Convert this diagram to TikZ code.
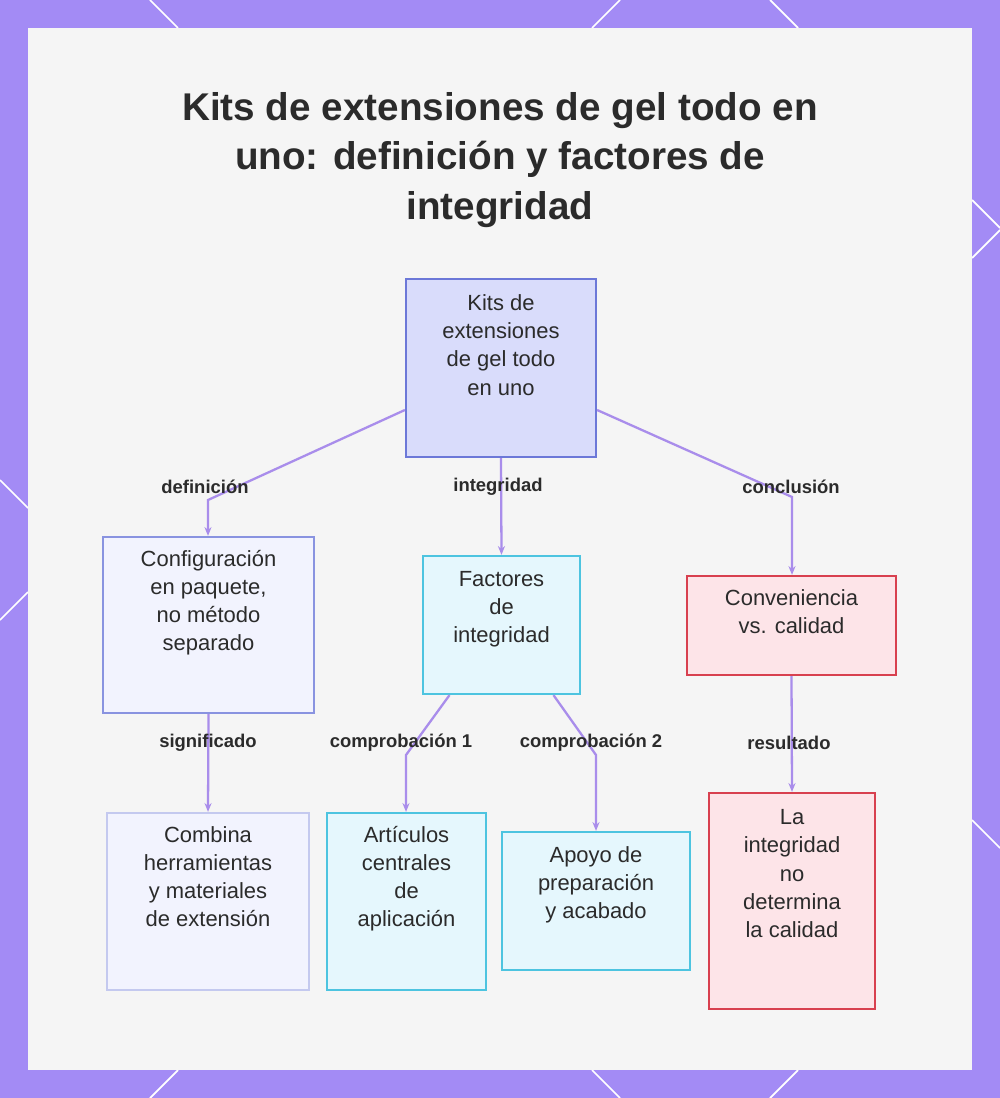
\documentclass[tikz,border=0pt]{standalone}
\usepackage{fontspec}
\setmainfont{Liberation Sans}
\usetikzlibrary{calc,arrows.meta}
\definecolor{frame}{HTML}{A38BF5}
\definecolor{link}{HTML}{A98DEB}
\definecolor{ink}{HTML}{2B2B2B}
\definecolor{blueline}{HTML}{6C78D8}
\definecolor{bluefill}{HTML}{D9DCFB}
\definecolor{palefill}{HTML}{F2F3FE}
\definecolor{cyanline}{HTML}{4DC4E0}
\definecolor{cyanfill}{HTML}{E5F7FD}
\definecolor{redline}{HTML}{D8404F}
\definecolor{redfill}{HTML}{FDE4E8}
\tikzset{
  box/.style={draw, line width=1.3pt, align=center, text=ink, font=\fontsize{12.5}{16}\selectfont, inner sep=2pt},
  bluebox/.style={box, draw=blueline, fill=bluefill},
  palebox/.style={box, draw=blueline!80, fill=palefill},
  cyanbox/.style={box, draw=cyanline, fill=cyanfill},
  redbox/.style={box, draw=redline, fill=redfill},
  edge/.style={draw=link, line width=1.3pt, -{Stealth[length=5pt,width=4pt]}},
  tag/.style={font=\bfseries\fontsize{10.5}{12}\selectfont, text=ink, inner sep=1pt}
}
\begin{document}
\begin{tikzpicture}[x=0.02cm,y=-0.02cm]
\useasboundingbox (0,0) rectangle (1000,1098);
% frame
\fill[frame] (0,0) rectangle (1000,1098);
\foreach \a/\b/\c/\d in {150/0/178/28, 620/0/592/28, 770/0/798/28, 972/200/1000/228, 972/258/1000/230, 0/480/28/508, 0/620/28/592, 972/820/1000/848, 150/1098/178/1070, 592/1070/620/1098, 770/1098/798/1070}
  \draw[white, line width=1pt] (\a,\b) -- (\c,\d);
\fill[white!96!black] (28,28) rectangle (972,1070);
% title
\node[font=\bfseries\fontsize{22}{28}\selectfont, text=ink, align=center] (title) at (500,160)
  {Kits de extensiones de gel todo en\\uno: definición y factores de\\integridad};
% boxes
\node[bluebox, minimum width=3.8cm, minimum height=3.56cm] (root) at (501,368)
  {Kits de\\extensiones\\de gel todo\\en uno\\[0.36cm]};
\node[palebox, minimum width=4.22cm, minimum height=3.52cm] (config) at (208.5,625)
  {Configuración\\en paquete,\\no método\\separado\\[0.42cm]};
\node[cyanbox, minimum width=3.14cm, minimum height=2.76cm] (factors) at (501.5,625)
  {Factores\\de\\integridad\\[0.15cm]};
\node[redbox, minimum width=4.18cm, minimum height=1.98cm] (conv) at (791.5,625.5)
  {Conveniencia\\vs. calidad\\[0cm]};
\node[palebox, draw=blueline!40, minimum width=4.04cm, minimum height=3.54cm] (combine) at (208,901.5)
  {Combina\\herramientas\\y materiales\\de extensión\\[0.43cm]};
\node[cyanbox, minimum width=3.18cm, minimum height=3.54cm] (core) at (406.5,901.5)
  {Artículos\\centrales\\de\\aplicación\\[0.43cm]};
\node[cyanbox, minimum width=3.76cm, minimum height=2.76cm] (prep) at (596,901)
  {Apoyo de\\preparación\\y acabado\\[0.17cm]};
\node[redbox, minimum width=3.32cm, minimum height=4.32cm] (result) at (792,901)
  {La\\integridad\\no\\determina\\la calidad\\[0.54cm]};
% connectors
\coordinate (kL) at (208,500);
\coordinate (kR) at (792,497);
\draw[edge] ($(root.west)+(0,42)$) -- (kL) -- (config.north -| kL);
\draw[edge] (root.south) -- (factors.north);
\draw[edge] ($(root.east)+(0,42)$) -- (kR) -- (conv.north -| kR);
\draw[edge] (config.south) -- (combine.north);
\coordinate (c1) at (406,755);
\coordinate (c2) at (596,755);
\draw[edge] ($(factors.south)+(-52,0)$) -- (c1) -- (core.north -| c1);
\draw[edge] ($(factors.south)+(52,0)$) -- (c2) -- (prep.north -| c2);
\draw[edge] (conv.south) -- (result.north);
% labels
\node[tag] at (205,487) {definición};
\node[tag] at (498,487) {integridad};
\node[tag] at (791,487) {conclusión};
\node[tag] at (208,743) {significado};
\node[tag] at (401,743) {comprobación 1};
\node[tag] at (591,743) {comprobación 2};
\node[tag] at (789,743) {resultado};
\end{tikzpicture}
\end{document}
